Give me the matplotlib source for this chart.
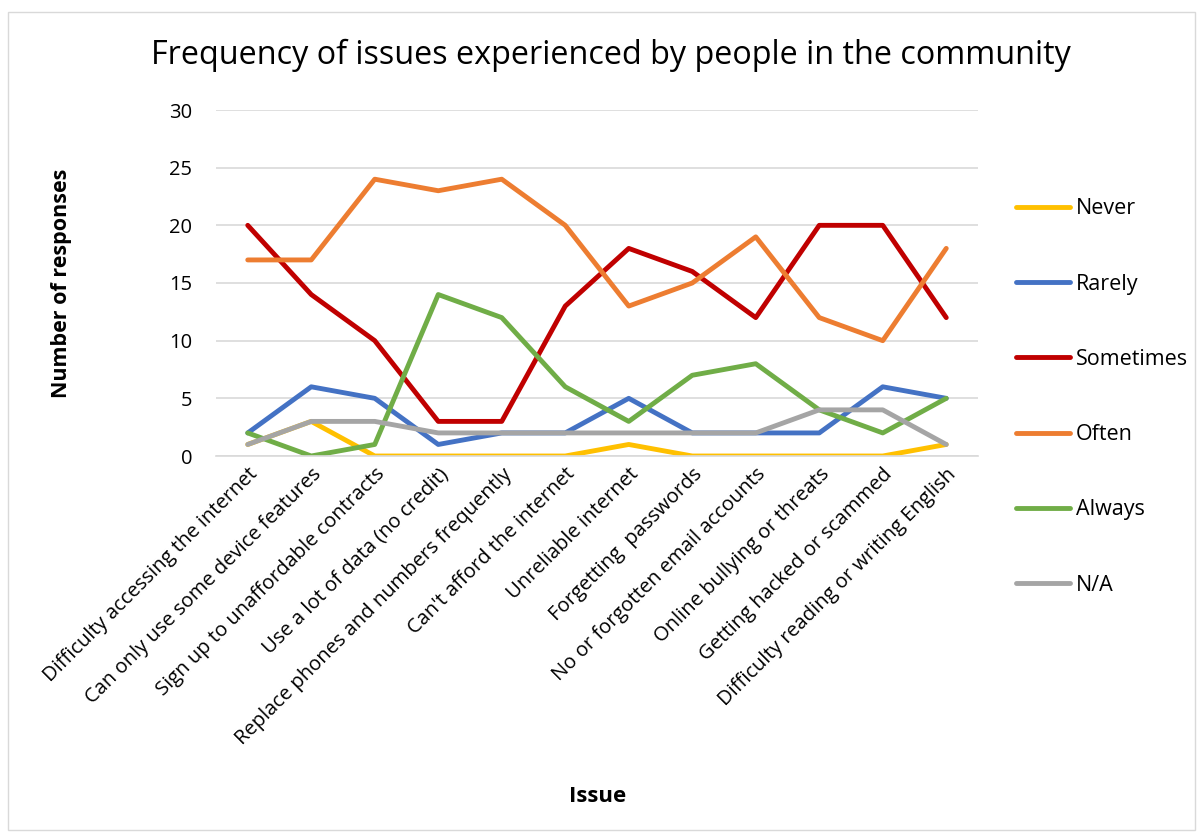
import matplotlib.pyplot as plt
from matplotlib.patches import Rectangle

plt.rcParams['font.family'] = ['Open Sans', 'DejaVu Sans']

issues = [
    "Difficulty accessing the internet",
    "Can only use some device features",
    "Sign up to unaffordable contracts",
    "Use a lot of data (no credit)",
    "Replace phones and numbers frequently",
    "Can't afford the internet",
    "Unreliable internet",
    "Forgetting  passwords",
    "No or forgotten email accounts",
    "Online bullying or threats",
    "Getting hacked or scammed",
    "Difficulty reading or writing English",
]

never = [1, 3, 0, 0, 0, 0, 1, 0, 0, 0, 0, 1]
rarely = [2, 6, 5, 1, 2, 2, 5, 2, 2, 2, 6, 5]
sometimes = [20, 14, 10, 3, 3, 13, 18, 16, 12, 20, 20, 12]
often = [17, 17, 24, 23, 24, 20, 13, 15, 19, 12, 10, 18]
always = [2, 0, 1, 14, 12, 6, 3, 7, 8, 4, 2, 5]
na = [1, 3, 3, 2, 2, 2, 2, 2, 2, 4, 4, 1]

series = [
    ("Never", never, "#FFC000"),
    ("Rarely", rarely, "#4472C4"),
    ("Sometimes", sometimes, "#C00000"),
    ("Often", often, "#ED7D31"),
    ("Always", always, "#70AD47"),
    ("N/A", na, "#A5A5A5"),
]

fig = plt.figure(figsize=(12, 8.39), dpi=100)
ax = fig.add_axes([216 / 1200, 1 - 456 / 839, (978 - 216) / 1200, (456 - 110) / 839])

x = list(range(len(issues)))
for name, vals, col in series:
    ax.plot(x, vals, color=col, lw=3.5, label=name, solid_joinstyle='round', solid_capstyle='round')

ax.set_xlim(-0.5, len(issues) - 0.5)
ax.set_ylim(0, 30)
ax.set_yticks(range(0, 31, 5))
ax.grid(axis='y', color='#d9d9d9', lw=1.2)
ax.set_axisbelow(True)
for s in ['top', 'right', 'left']:
    ax.spines[s].set_visible(False)
ax.spines['bottom'].set_color('#d9d9d9')
ax.spines['bottom'].set_linewidth(1.2)
ax.tick_params(axis='both', length=0, labelsize=14.5, colors='#000000', pad=17)
ax.tick_params(axis='x', pad=6)
ax.set_xticks(x)
ax.set_xticklabels(issues, rotation=45, ha='right', rotation_mode='anchor')

fig.text(611 / 1200, 1 - 55 / 839, "Frequency of issues experienced by people in the community",
         ha='center', va='center', fontsize=23.3)
fig.text(62 / 1200, 1 - 283 / 839, "Number of responses", rotation=90,
         ha='center', va='center', fontsize=15.5, fontweight='bold')
fig.text(598 / 1200, 1 - 797 / 839, "Issue", ha='center', va='center',
         fontsize=16, fontweight='bold')

leg = fig.legend(loc='upper left', bbox_to_anchor=(997 / 1200, 1 - 179 / 839),
                 frameon=False, fontsize=15.5, handlelength=2.5, labelspacing=2.52,
                 handletextpad=0.25)

fig.patches.append(Rectangle((8 / 1200, 1 - 830 / 839), 1187 / 1200, 818 / 839,
                             transform=fig.transFigure, fill=False,
                             edgecolor='#d9d9d9', lw=1))

fig.savefig("out.png", dpi=100)
